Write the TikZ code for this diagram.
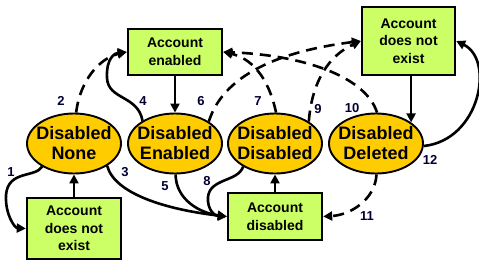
\documentclass[tikz,border=0pt]{standalone}
\usepackage{fontspec}
\setmainfont{Liberation Sans}
\usetikzlibrary{arrows.meta,shapes.geometric}
\definecolor{boxgreen}{HTML}{CCFF66}
\definecolor{stgold}{HTML}{FFCC00}
\definecolor{numblue}{HTML}{000033}
\begin{document}
\begin{tikzpicture}[x=1pt,y=-1pt,
  st/.style={ellipse, draw=black, line width=1.9pt, fill=stgold, minimum width=94pt, minimum height=60pt, inner sep=0pt},
  sttext/.style={font=\fontsize{18}{20}\selectfont\bfseries, align=center, inner sep=0pt},
  acct/.style={rectangle, draw=black, line width=2.4pt, fill=boxgreen, font=\fontsize{14}{17.5}\selectfont\bfseries, align=center, inner sep=0pt},
  tr/.style={line width=2.6pt, -{Triangle[length=9pt,width=9pt]}},
  dtr/.style={tr, dash pattern=on 11pt off 7pt},
  num/.style={font=\fontsize{13}{13}\selectfont\bfseries, text=numblue, inner sep=0pt}]
\useasboundingbox (0,0) rectangle (479,265);
% boxes
\node[acct, minimum width=94pt, minimum height=46pt] (ae) at (175,52) {Account\\enabled};
\node[acct, minimum width=93pt, minimum height=68pt] (dne2) at (408.5,41) {Account\\does not\\exist};
\node[acct, minimum width=94pt, minimum height=61pt] (dne1) at (74,228.5) {Account\\does not\\exist};
\node[acct, minimum width=94pt, minimum height=47pt] (ad) at (275,216.5) {Account\\disabled};
% states
\node[st, label={[sttext]center:{Disabled\\None}}] (none) at (74,143.5) {};
\node[st, label={[sttext]center:{Disabled\\Enabled}}] (en) at (175,143.5) {};
\node[st, label={[sttext]center:{Disabled\\Disabled}}] (dis) at (275,143.5) {};
\node[st, label={[sttext]center:{Disabled\\Deleted}}] (del) at (376,143.5) {};
% straight arrows
\draw[tr] (ae.south) -- (en.north);
\draw[tr] (dne1.north) -- (none.south);
\draw[tr] (ad.north) -- (dis.south);
\draw[tr] (del.31 |- dne2.south) -- (del.31);
% curved connectors
\draw[tr] (none.-144) .. controls (35,178) and (8,170) .. (6,195) .. controls (5,215) and (15,228) .. (dne1.west);
\draw[dtr] (none.86) .. controls (80,80) and (100,58) .. (ae.west);
\draw[tr] (none.-34) .. controls (115,195) and (170,210) .. (ad.west);
\draw[tr] (en.145) .. controls (138,95) and (108,100) .. (107,78) .. controls (106,58) and (115,53) .. (ae.west);
\draw[tr] (en.-89) .. controls (176,200) and (200,213) .. (ad.west);
\draw[dtr] (en.33) .. controls (225,70) and (290,50) .. (dne2.west);
\draw[dtr] (dis.88) .. controls (268,75) and (250,58) .. (ae.east);
\draw[tr] (dis.-144) .. controls (238,182) and (210,178) .. (208,197) .. controls (207,210) and (215,216) .. (ad.west);
\draw[dtr] (dis.33) .. controls (312,80) and (330,55) .. (dne2.west);
\draw[dtr] (del.88) .. controls (365,75) and (300,55) .. (ae.east);
\draw[dtr] (del.-89) .. controls (375,200) and (350,215) .. (ad.east);
\draw[tr] (del.-3) .. controls (480,140) and (495,60) .. (dne2.east);
% numbers
\node[num] (n1) at (11,172) {1};
\node[num] (n2) at (61,101) {2};
\node[num] (n3) at (125,172) {3};
\node[num] (n4) at (143,101) {4};
\node[num] (n5) at (165,186) {5};
\node[num] (n6) at (201,101) {6};
\node[num] (n7) at (258,101) {7};
\node[num] (n8) at (207,181) {8};
\node[num] (n9) at (318,109) {9};
\node[num] (n10) at (352,108) {10};
\node[num] (n11) at (367,216) {11};
\node[num] (n12) at (430,160) {12};
\end{tikzpicture}
\end{document}
